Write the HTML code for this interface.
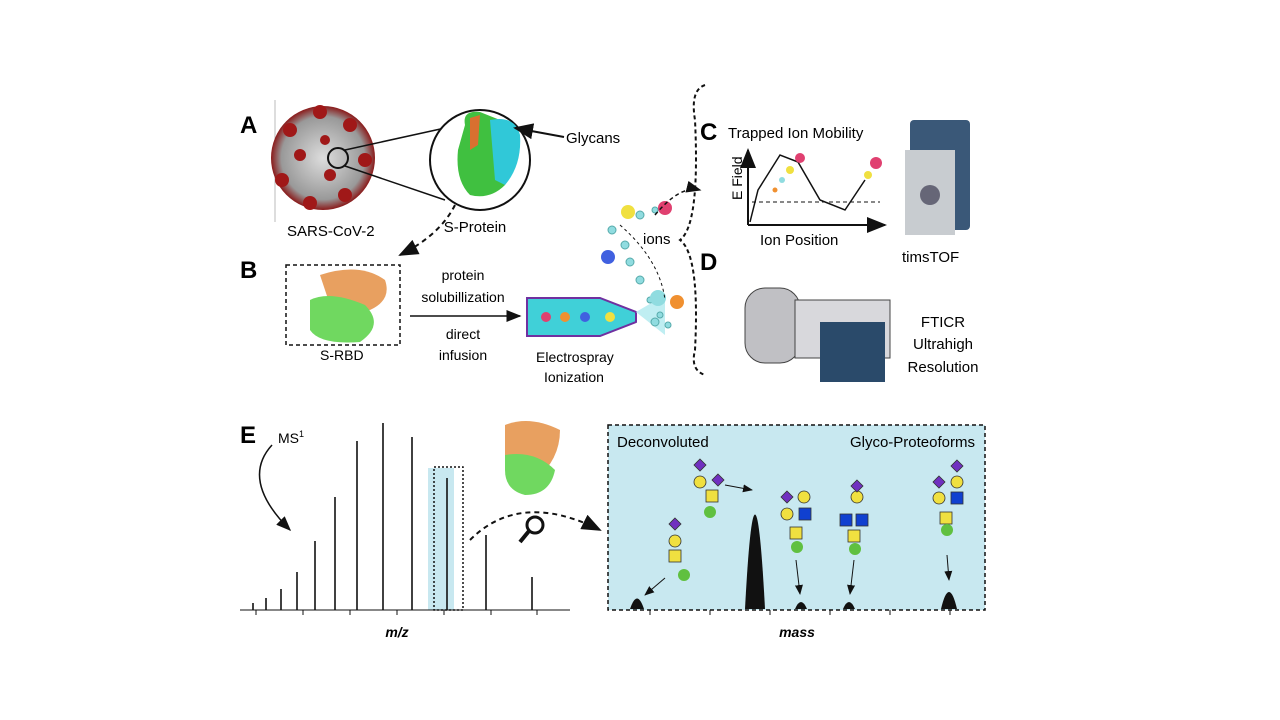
<!DOCTYPE html>
<html><head><meta charset="utf-8"><style>
body{margin:0;background:#fff;width:1280px;height:720px;overflow:hidden}
svg{display:block}
text{font-family:"Liberation Sans",sans-serif}
</style></head><body>
<svg width="1280" height="720" viewBox="0 0 1280 720">
<defs>
<marker id="ah" markerWidth="10" markerHeight="8" refX="9" refY="4" orient="auto"><path d="M0,0L10,4L0,8z" fill="#111"/></marker>
<radialGradient id="vir" cx="50%" cy="50%" r="50%"><stop offset="0" stop-color="#ddd"/><stop offset="0.8" stop-color="#999"/><stop offset="1" stop-color="#8a1a1a"/></radialGradient>
</defs>
<!-- Panel letters -->
<text x="240" y="133" font-size="24" font-weight="bold">A</text>
<text x="240" y="278" font-size="24" font-weight="bold">B</text>
<text x="700" y="140" font-size="24" font-weight="bold">C</text>
<text x="700" y="270" font-size="24" font-weight="bold">D</text>
<text x="240" y="443" font-size="24" font-weight="bold">E</text>
<!-- Virus -->
<line x1="275" y1="100" x2="275" y2="222" stroke="#bbb"/>
<circle cx="323" cy="158" r="52" fill="url(#vir)"/>
<g fill="#a01818">
<circle cx="290" cy="130" r="7"/><circle cx="320" cy="112" r="7"/><circle cx="350" cy="125" r="7"/><circle cx="365" cy="160" r="7"/><circle cx="345" cy="195" r="7"/><circle cx="310" cy="203" r="7"/><circle cx="282" cy="180" r="7"/><circle cx="300" cy="155" r="6"/><circle cx="330" cy="175" r="6"/><circle cx="325" cy="140" r="5"/>
</g>
<circle cx="338" cy="158" r="10" fill="none" stroke="#111" stroke-width="2"/>
<line x1="345" y1="150" x2="445" y2="128" stroke="#111" stroke-width="1.5"/>
<line x1="345" y1="166" x2="445" y2="200" stroke="#111" stroke-width="1.5"/>
<text x="287" y="236" font-size="15">SARS-CoV-2</text>
<!-- S protein circle -->
<circle cx="480" cy="160" r="50" fill="#fff" stroke="#111" stroke-width="2"/>
<path d="M465,125 Q462,110 480,112 L500,120 Q515,140 505,185 Q490,200 470,195 Q455,180 458,150z" fill="#40c040"/>
<path d="M490,120 Q515,115 520,135 Q522,165 505,185 L495,180z" fill="#30c8d8"/>
<path d="M470,118 L480,115 L478,145 L470,150z" fill="#d87030"/>
<text x="475" y="232" font-size="15" text-anchor="middle">S-Protein</text>
<text x="566" y="143" font-size="15">Glycans</text>
<line x1="564" y1="137" x2="515" y2="128" stroke="#111" stroke-width="2" marker-end="url(#ah)"/>
<path d="M455,205 Q440,235 400,255" fill="none" stroke="#111" stroke-width="2" stroke-dasharray="5,4" marker-end="url(#ah)"/>
<!-- B -->
<rect x="286" y="265" width="114" height="80" fill="none" stroke="#111" stroke-width="1.5" stroke-dasharray="4,3"/>
<path d="M320,275 Q360,262 385,280 Q392,300 370,310 L330,305z" fill="#e8a060"/>
<path d="M310,300 Q330,290 365,305 Q385,325 360,342 Q320,345 310,330z" fill="#70d860"/>
<text x="320" y="360" font-size="14">S-RBD</text>
<text x="463" y="280" font-size="14" text-anchor="middle">protein</text>
<text x="463" y="302" font-size="14" text-anchor="middle">solubillization</text>
<line x1="410" y1="316" x2="520" y2="316" stroke="#111" stroke-width="1.5" marker-end="url(#ah)"/>
<text x="463" y="339" font-size="14" text-anchor="middle">direct</text>
<text x="463" y="360" font-size="14" text-anchor="middle">infusion</text>
<path d="M527,298 L600,298 L636,312 L636,322 L600,336 L527,336z" fill="#40d0d8" stroke="#7030a0" stroke-width="2"/>
<circle cx="546" cy="317" r="5" fill="#e04070"/><circle cx="565" cy="317" r="5" fill="#f09030"/><circle cx="585" cy="317" r="5" fill="#4060e0"/><circle cx="610" cy="317" r="5" fill="#f0e040"/>
<path d="M636,312 L665,295 L665,335z" fill="#bfeef2"/>
<text x="536" y="362" font-size="14">Electrospray</text>
<text x="544" y="382" font-size="14">Ionization</text>
<!-- ions -->
<g fill="#90dce0" stroke="#5aa">
<circle cx="612" cy="230" r="4"/><circle cx="625" cy="245" r="4"/><circle cx="640" cy="215" r="4"/><circle cx="655" cy="210" r="3"/><circle cx="630" cy="262" r="4"/><circle cx="640" cy="280" r="4"/><circle cx="650" cy="300" r="3"/><circle cx="660" cy="315" r="3"/><circle cx="668" cy="325" r="3"/><circle cx="655" cy="322" r="4"/>
</g>
<circle cx="628" cy="212" r="7" fill="#f0e040"/><circle cx="665" cy="208" r="7" fill="#e04070"/><circle cx="608" cy="257" r="7" fill="#4060e0"/><circle cx="677" cy="302" r="7" fill="#f09030"/><circle cx="658" cy="298" r="8" fill="#90dce0"/>
<path d="M620,225 Q660,260 665,300" fill="none" stroke="#111" stroke-dasharray="3,3"/>
<text x="643" y="244" font-size="15">ions</text>
<path d="M655,215 Q680,185 700,190" fill="none" stroke="#111" stroke-width="1.5" stroke-dasharray="4,3" marker-end="url(#ah)"/>
<path d="M705,85 Q690,90 695,120 Q700,225 680,240 Q700,255 695,350 Q690,370 705,375" fill="none" stroke="#111" stroke-width="2" stroke-dasharray="4,3"/>
<!-- C -->
<text x="728" y="138" font-size="15">Trapped Ion Mobility</text>
<line x1="748" y1="225" x2="748" y2="150" stroke="#111" stroke-width="2" marker-end="url(#ah)"/>
<line x1="748" y1="225" x2="885" y2="225" stroke="#111" stroke-width="2" marker-end="url(#ah)"/>
<text x="742" y="200" font-size="14" transform="rotate(-90 742 200)">E Field</text>
<path d="M750,222 L758,190 L780,155 L798,162 L820,200 L845,210 L865,180" fill="none" stroke="#111" stroke-width="1.5"/>
<line x1="752" y1="202" x2="880" y2="202" stroke="#111" stroke-dasharray="4,3"/>
<circle cx="800" cy="158" r="5" fill="#e04070"/><circle cx="790" cy="170" r="4" fill="#f0e040"/><circle cx="782" cy="180" r="3" fill="#90dce0"/><circle cx="775" cy="190" r="2.5" fill="#f09030"/>
<circle cx="876" cy="163" r="6" fill="#e04070"/><circle cx="868" cy="175" r="4" fill="#f0e040"/>
<text x="760" y="245" font-size="15">Ion Position</text>
<rect x="910" y="120" width="60" height="110" rx="4" fill="#3a5878"/>
<rect x="905" y="150" width="50" height="85" fill="#c8ccd0"/>
<circle cx="930" cy="195" r="10" fill="#667"/>
<text x="902" y="262" font-size="15">timsTOF</text>
<!-- D -->
<rect x="745" y="288" width="55" height="75" rx="20" fill="#c0c0c4" stroke="#444"/>
<rect x="795" y="300" width="95" height="58" fill="#d8d8dc" stroke="#444"/>
<rect x="820" y="322" width="65" height="60" fill="#2a4a6a"/>
<text x="943" y="327" font-size="15" text-anchor="middle">FTICR</text>
<text x="943" y="349" font-size="15" text-anchor="middle">Ultrahigh</text>
<text x="943" y="372" font-size="15" text-anchor="middle">Resolution</text>
<!-- E left spectrum -->
<text x="278" y="443" font-size="14">MS<tspan font-size="9" dy="-6">1</tspan></text>
<path d="M272,445 Q240,480 290,530" fill="none" stroke="#111" stroke-width="1.5" marker-end="url(#ah)"/>
<rect x="428" y="468" width="26" height="142" fill="#c8e8f0"/>
<rect x="434" y="467" width="29" height="143" fill="none" stroke="#111" stroke-width="1.5" stroke-dasharray="2,2"/>
<g stroke="#111" stroke-width="1.6">
<line x1="253" y1="610" x2="253" y2="603"/><line x1="266" y1="610" x2="266" y2="598"/><line x1="281" y1="610" x2="281" y2="589"/><line x1="297" y1="610" x2="297" y2="572"/><line x1="315" y1="610" x2="315" y2="541"/><line x1="335" y1="610" x2="335" y2="497"/><line x1="357" y1="610" x2="357" y2="441"/><line x1="383" y1="610" x2="383" y2="423"/><line x1="412" y1="610" x2="412" y2="437"/><line x1="447" y1="610" x2="447" y2="478"/><line x1="486" y1="610" x2="486" y2="535"/><line x1="532" y1="610" x2="532" y2="577"/>
<line x1="240" y1="610" x2="570" y2="610" stroke-width="1"/>
<line x1="256" y1="610" x2="256" y2="615" stroke-width="1"/><line x1="303" y1="610" x2="303" y2="615" stroke-width="1"/><line x1="350" y1="610" x2="350" y2="615" stroke-width="1"/><line x1="397" y1="610" x2="397" y2="615" stroke-width="1"/><line x1="444" y1="610" x2="444" y2="615" stroke-width="1"/><line x1="491" y1="610" x2="491" y2="615" stroke-width="1"/><line x1="537" y1="610" x2="537" y2="615" stroke-width="1"/>
</g>
<text x="397" y="637" font-size="14" font-weight="bold" font-style="italic" text-anchor="middle">m/z</text>
<path d="M505,425 Q530,415 560,430 Q560,460 535,480 L505,470z" fill="#e8a060"/>
<path d="M505,455 Q535,450 555,470 Q550,495 525,495 Q505,490 505,470z" fill="#70d860"/>
<path d="M470,540 Q520,490 600,530" fill="none" stroke="#111" stroke-width="2" stroke-dasharray="5,4" marker-end="url(#ah)"/>
<circle cx="535" cy="525" r="8" fill="none" stroke="#111" stroke-width="3"/><line x1="529" y1="531" x2="520" y2="542" stroke="#111" stroke-width="4"/>
<!-- E right -->
<rect x="608" y="425" width="377" height="185" fill="#c8e8f0" stroke="#111" stroke-width="1.5" stroke-dasharray="4,3"/>
<text x="617" y="447" font-size="15">Deconvoluted</text>
<text x="975" y="447" font-size="15" text-anchor="end">Glyco-Proteoforms</text>
<g fill="#111">
<path d="M630,609 Q637,588 644,609z"/><path d="M745,609 Q755,420 765,609z"/><path d="M795,609 Q801,595 807,609z"/><path d="M843,609 Q849,595 855,609z"/><path d="M941,609 Q949,575 957,609z"/>
</g>
<g stroke="#111" stroke-width="1" fill="none">
<line x1="665" y1="578" x2="645" y2="595" marker-end="url(#ah)"/><line x1="725" y1="485" x2="752" y2="490" marker-end="url(#ah)"/><line x1="796" y1="560" x2="800" y2="594" marker-end="url(#ah)"/><line x1="854" y1="560" x2="850" y2="594" marker-end="url(#ah)"/><line x1="947" y1="555" x2="949" y2="580" marker-end="url(#ah)"/>
</g>
<g stroke="#333" stroke-width="0.8">
<polygon points="675,518 681,524 675,530 669,524" fill="#7030c0"/><circle cx="675" cy="541" r="6" fill="#f0e040"/><rect x="669" y="550" width="12" height="12" fill="#f0e040"/>
<polygon points="700,459 706,465 700,471 694,465" fill="#7030c0"/><circle cx="700" cy="482" r="6" fill="#f0e040"/><rect x="706" y="490" width="12" height="12" fill="#f0e040"/><polygon points="718,474 724,480 718,486 712,480" fill="#7030c0"/>
<polygon points="787,491 793,497 787,503 781,497" fill="#7030c0"/><circle cx="787" cy="514" r="6" fill="#f0e040"/><circle cx="804" cy="497" r="6" fill="#f0e040"/><rect x="799" y="508" width="12" height="12" fill="#1040d0"/><rect x="790" y="527" width="12" height="12" fill="#f0e040"/>
<circle cx="857" cy="497" r="6" fill="#f0e040"/><polygon points="857,480 863,486 857,492 851,486" fill="#7030c0"/><rect x="840" y="514" width="12" height="12" fill="#1040d0"/><rect x="856" y="514" width="12" height="12" fill="#1040d0"/><rect x="848" y="530" width="12" height="12" fill="#f0e040"/>
<polygon points="957,460 963,466 957,472 951,466" fill="#7030c0"/><circle cx="957" cy="482" r="6" fill="#f0e040"/><polygon points="939,476 945,482 939,488 933,482" fill="#7030c0"/><circle cx="939" cy="498" r="6" fill="#f0e040"/><rect x="951" y="492" width="12" height="12" fill="#1040d0"/><rect x="940" y="512" width="12" height="12" fill="#f0e040"/>
</g>
<g fill="#60c040"><circle cx="684" cy="575" r="6"/><circle cx="710" cy="512" r="6"/><circle cx="797" cy="547" r="6"/><circle cx="855" cy="549" r="6"/><circle cx="947" cy="530" r="6"/></g>
<g stroke="#111"><line x1="650" y1="610" x2="650" y2="615"/><line x1="710" y1="610" x2="710" y2="615"/><line x1="770" y1="610" x2="770" y2="615"/><line x1="830" y1="610" x2="830" y2="615"/><line x1="890" y1="610" x2="890" y2="615"/><line x1="950" y1="610" x2="950" y2="615"/></g>
<text x="797" y="637" font-size="14" font-weight="bold" font-style="italic" text-anchor="middle">mass</text>
</svg>
</body></html>
